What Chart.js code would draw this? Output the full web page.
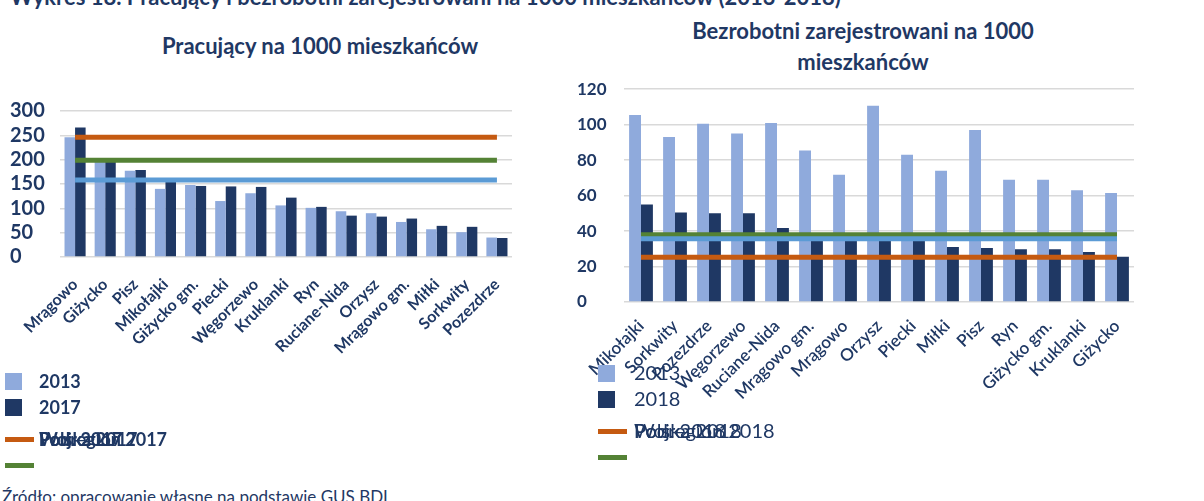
<!DOCTYPE html>
<html>
<head>
<meta charset="utf-8">
<script src="https://cdn.jsdelivr.net/npm/chart.js@4/dist/chart.umd.min.js"></script>
<style>
  body { margin: 0; width: 1204px; height: 501px; background: #fff; position: relative; overflow: hidden; font-family: Lato, "Open Sans", sans-serif; color: #1F3864; }
  .abs { position: absolute; }
  .heading { left: 10px; top: -17px; font-size: 22px; font-weight: 700; white-space: nowrap; }
  .title { font-size: 22px; font-weight: 700; text-align: center; line-height: 31px; }
  .leg-row { position: absolute; height: 20px; }
  .leg-box { position: absolute; left: 0; top: 1px; width: 17px; height: 17px; }
  .leg-line { position: absolute; left: 0; top: 7px; width: 29px; height: 5px; }
  .leg-text { position: absolute; left: 34px; top: -2px; font-size: 18px; font-weight: 700; white-space: nowrap; }
  .right .leg-text { left: 36px; top: -4px; font-size: 20px; font-weight: 400; }
  .source { left: 2px; top: 486px; font-size: 17px; white-space: nowrap; }
</style>
</head>
<body>
<div class="abs heading">Wykres 18. Pracujący i bezrobotni zarejestrowani na 1000 mieszkańców (2013-2018)</div>

<div class="abs title" style="left:120px; top:30px; width:400px;">Pracujący na 1000 mieszkańców</div>
<div class="abs title" style="left:643px; top:15px; width:440px;">Bezrobotni zarejestrowani na 1000<br>mieszkańców</div>

<canvas id="leftChart" class="abs" width="530" height="300" style="left:0; top:95px;"></canvas>
<canvas id="rightChart" class="abs" width="590" height="330" style="left:570px; top:75px;"></canvas>

<div id="leftLegend" class="abs" style="left:5px; top:372px;"></div>
<div id="rightLegend" class="abs right" style="left:598px; top:364px;"></div>

<div class="abs source">Źródło: opracowanie własne na podstawie GUS BDL</div>

<script>
// --- Pracujący na 1000 mieszkańców ---
const leftCategories = ['Mrągowo', 'Giżycko', 'Pisz', 'Mikołajki', 'Giżycko gm.', 'Piecki', 'Węgorzewo', 'Kruklanki', 'Ryn', 'Ruciane-Nida', 'Orzysz', 'Mrągowo gm.', 'Miłki', 'Sorkwity', 'Pozezdrze'];
const pracujacy2013 = [246, 198, 177, 140, 148, 115, 131, 106, 101, 94, 90, 72, 57, 51, 40];
const pracujacy2017 = [266, 195, 179, 157, 146, 145, 144, 122, 103, 85, 83, 79, 64, 62, 39];
const polska2017 = [246, 246, 246, 246, 246, 246, 246, 246, 246, 246, 246, 246, 246, 246, 246];
const woj2017 = [199, 199, 199, 199, 199, 199, 199, 199, 199, 199, 199, 199, 199, 199, 199];
const podregion2017 = [158, 158, 158, 158, 158, 158, 158, 158, 158, 158, 158, 158, 158, 158, 158];
const leftTicks = [0, 50, 100, 150, 200, 250, 300];

// --- Bezrobotni zarejestrowani na 1000 mieszkańców ---
const rightCategories = ['Mikołajki', 'Sorkwity', 'Pozezdrze', 'Węgorzewo', 'Ruciane-Nida', 'Mrągowo gm.', 'Mrągowo', 'Orzysz', 'Piecki', 'Miłki', 'Pisz', 'Ryn', 'Giżycko gm.', 'Kruklanki', 'Giżycko'];
const bezrobotni2013 = [105.5, 93, 100.5, 95, 101, 85.5, 71.7, 110.7, 83, 74, 97, 69, 69, 63, 61.5];
const bezrobotni2018 = [55, 50.5, 50, 50, 41.7, 35, 35, 35, 35, 31, 30.5, 29.8, 29.8, 28.2, 25.5];
const polska2018 = [25.3, 25.3, 25.3, 25.3, 25.3, 25.3, 25.3, 25.3, 25.3, 25.3, 25.3, 25.3, 25.3, 25.3, 25.3];
const woj2018 = [37.9, 37.9, 37.9, 37.9, 37.9, 37.9, 37.9, 37.9, 37.9, 37.9, 37.9, 37.9, 37.9, 37.9, 37.9];
const podregion2018 = [35.7, 35.7, 35.7, 35.7, 35.7, 35.7, 35.7, 35.7, 35.7, 35.7, 35.7, 35.7, 35.7, 35.7, 35.7];
const rightTicks = [0, 20, 40, 60, 80, 100, 120];

const NAVY = '#1F3864';
const LIGHT = '#8FAADC';
const ORANGE = '#C55A11';
const GREEN = '#548235';
const BLUE = '#5B9BD5';

function barSet(label, data, color) {
  return { type: 'bar', label, data, backgroundColor: color, order: 2, barPercentage: 1, categoryPercentage: 0.7 };
}
function lineSet(label, data, color, order) {
  return { type: 'line', label, data, borderColor: color, backgroundColor: color, borderWidth: 5, pointRadius: 0, fill: false, order };
}

function makeChart(id, cats, datasets, ticks, opts) {
  const ctx = document.getElementById(id).getContext('2d');
  return new Chart(ctx, {
    data: { labels: cats, datasets },
    options: {
      responsive: false,
      animation: false,
      layout: { padding: opts.padding },
      plugins: { legend: { display: false }, tooltip: { enabled: false } },
      scales: {
        x: {
          offset: true,
          grid: { display: false, drawTicks: false },
          border: { display: false },
          ticks: { color: NAVY, font: { family: 'Lato', size: opts.xSize, weight: opts.xWeight }, minRotation: 45, maxRotation: 45, padding: opts.xPad, autoSkip: false },
          afterFit: s => { s.height = opts.xHeight; }
        },
        y: {
          min: ticks[0], max: ticks[ticks.length - 1],
          afterBuildTicks: s => { s.ticks = ticks.map(v => ({ value: v })); },
          grid: { color: '#D9D9D9', lineWidth: 1.5, drawTicks: false },
          border: { display: false },
          ticks: { color: NAVY, font: { family: 'Lato', size: opts.ySize, weight: 'bold' }, crossAlign: 'far', padding: 4, autoSkip: false },
          afterFit: s => { s.width = opts.yWidth; }
        }
      }
    }
  });
}

makeChart('leftChart', leftCategories, [
  barSet('2013', pracujacy2013, LIGHT),
  barSet('2017', pracujacy2017, NAVY),
  lineSet('Polska 2017', polska2017, ORANGE, 1),
  lineSet('Woj. 2017', woj2017, GREEN, 1),
  lineSet('Podregion 2017', podregion2017, BLUE, 0)
], leftTicks, { padding: { left: 10, top: 15, right: 18, bottom: 0 }, yWidth: 50, ySize: 20, xHeight: 138, xPad: 18, xSize: 16, xWeight: 'bold' });

makeChart('rightChart', rightCategories, [
  barSet('2013', bezrobotni2013, LIGHT),
  barSet('2018', bezrobotni2018, NAVY),
  lineSet('Polska 2018', polska2018, ORANGE, 1),
  lineSet('Woj. 2018', woj2018, GREEN, 1),
  lineSet('Podregion 2018', podregion2018, BLUE, 0)
], rightTicks, { padding: { left: 7, top: 14, right: 26, bottom: 0 }, yWidth: 47, ySize: 17, xHeight: 103, xPad: 14, xSize: 17, xWeight: '600' });

// legends: two boxes, then the three line labels printed over each other
function buildLegend(id, barLabels, lineLabels, step) {
  const el = document.getElementById(id);
  let html = '';
  html += `<div class="leg-row" style="top:0"><div class="leg-box" style="background:${LIGHT}"></div><div class="leg-text">${barLabels[0]}</div></div>`;
  html += `<div class="leg-row" style="top:${step}px"><div class="leg-box" style="background:${NAVY}"></div><div class="leg-text">${barLabels[1]}</div></div>`;
  html += `<div class="leg-row" style="top:${step * 2 + 6}px"><div class="leg-line" style="background:${ORANGE}"></div>`;
  lineLabels.forEach(t => { html += `<div class="leg-text">${t}</div>`; });
  html += `</div>`;
  html += `<div class="leg-row" style="top:${step * 3 + 6}px"><div class="leg-line" style="background:${GREEN}"></div></div>`;
  el.innerHTML = html;
}
buildLegend('leftLegend', ['2013', '2017'], ['Polska 2017', 'Woj. 2017', 'Podregion 2017'], 26);
buildLegend('rightLegend', ['2013', '2018'], ['Polska 2018', 'Woj. 2018', 'Podregion 2018'], 26);
</script>
</body>
</html>
